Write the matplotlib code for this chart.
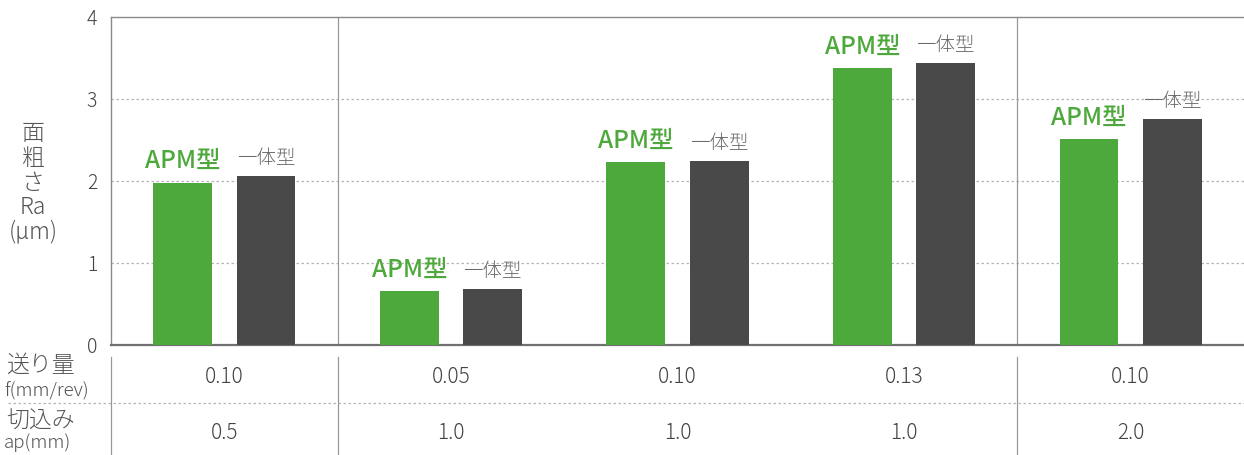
import matplotlib
matplotlib.use("Agg")
import matplotlib.pyplot as plt
from matplotlib.lines import Line2D
import numpy as np

plt.rcParams['font.family'] = ['Noto Sans CJK JP', 'DejaVu Sans']
plt.rcParams['font.weight'] = 'light'

# ---- data ----
apm_values = [1.98, 0.66, 2.23, 3.38, 2.51]
integral_values = [2.06, 0.68, 2.24, 3.44, 2.76]
feed_labels = ["0.10", "0.05", "0.10", "0.13", "0.10"]
depth_labels = ["0.5", "1.0", "1.0", "1.0", "2.0"]
series_names = ["APM型", "一体型"]
y_ticks = [0, 1, 2, 3, 4]
row_titles = [("送り量", "f(mm/rev)"), ("切込み", "ap(mm)")]

GREEN = "#4ea93c"
DARK = "#494949"
LINE = "#8a8a8a"
TXT = "#555555"

W, H = 1244, 455
fig = plt.figure(figsize=(W / 100, H / 100), dpi=100)

def fx(px):
    return px / W

def fy(py):
    return 1 - py / H

ax = fig.add_axes([fx(111), fy(345), 1 - fx(111), fy(17) - fy(345)])
x = np.arange(len(apm_values))
bw = 0.26
off = 0.184
ax.bar(x - off, apm_values, bw, color=GREEN, zorder=3)
ax.bar(x + off, integral_values, bw, color=DARK, zorder=3)

ax.set_xlim(-0.5, 4.5)
ax.set_ylim(0, 4)
ax.set_yticks(y_ticks)
ax.set_yticklabels([str(t) for t in y_ticks])
ax.tick_params(axis='y', length=0, pad=10, labelsize=14, labelcolor="#444444")
ax.set_xticks([])
for yv in y_ticks[1:-1]:
    ax.axhline(yv, color="#b5b5b5", lw=0.9, ls=(0, (2, 2)), zorder=1)
ax.spines['right'].set_visible(False)
ax.spines['left'].set_color(LINE)
ax.spines['top'].set_color(LINE)
ax.spines['bottom'].set_color("#707070")
ax.spines['bottom'].set_linewidth(1.6)
ax.spines['left'].set_linewidth(1.0)
ax.spines['top'].set_linewidth(1.0)
for xv in (0.5, 3.5):
    ax.axvline(xv, color="#999999", lw=0.9, zorder=2)

for i in range(len(x)):
    ax.annotate(series_names[0], (x[i] - off, apm_values[i]), xytext=(0, 6),
                textcoords='offset points', ha='center', va='bottom',
                color=GREEN, fontsize=17.5, fontweight='medium')
    ax.annotate(series_names[1], (x[i] + off, integral_values[i]), xytext=(0, 5),
                textcoords='offset points', ha='center', va='bottom',
                color="#6a6a6a", fontsize=14)

# y label
fig.text(fx(33), fy(183), "面\n粗\nさ\nRa\n(µm)", ha='center', va='center',
         fontsize=16.5, color=TXT, linespacing=0.98)

# table below
tax = fig.add_axes([fx(111), 0, 1 - fx(111), fy(350)])
tax.set_xlim(-0.5, 4.5)
tax.set_ylim(455, 350)
tax.axis('off')
for xv in (-0.5, 0.5, 3.5):
    tax.plot([xv, xv], [357, 455], color="#999999", lw=0.9, clip_on=False)
fig.add_artist(Line2D([fx(8), 1], [fy(403), fy(403)], color="#b5b5b5", lw=0.9,
                      ls=(0, (2, 2))))
for i in range(len(x)):
    tax.text(x[i], 377, feed_labels[i], ha='center', va='center', fontsize=15, color="#444444")
    tax.text(x[i], 433, depth_labels[i], ha='center', va='center', fontsize=15, color="#444444")

fig.text(fx(6), fy(365), row_titles[0][0], ha='left', va='center', fontsize=16.5, color=TXT)
fig.text(fx(4), fy(391), row_titles[0][1], ha='left', va='center', fontsize=13.5, color=TXT)
fig.text(fx(6), fy(421), row_titles[1][0], ha='left', va='center', fontsize=16.5, color=TXT)
fig.text(fx(4), fy(443), row_titles[1][1], ha='left', va='center', fontsize=13.5, color=TXT)

fig.savefig("out.png", dpi=100)
